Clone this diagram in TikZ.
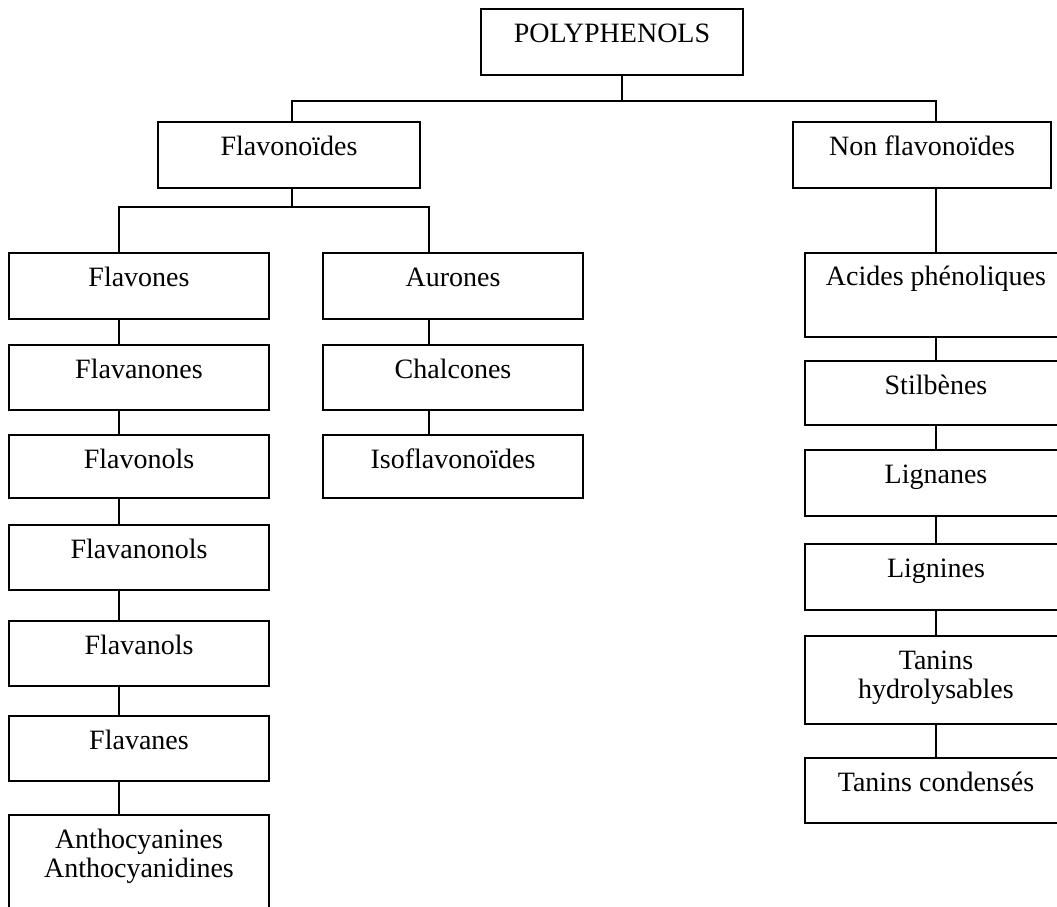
\documentclass[tikz,border=0pt]{standalone}
\usepackage{fontspec}
\setmainfont{Liberation Serif}
\begin{document}
\begin{tikzpicture}[x=1pt,y=-1pt,
  box/.style={draw=black, line width=1.5pt, rectangle, inner sep=0pt, minimum height=65pt},
  lbox/.style={box, minimum width=260pt},
  lbl/.style={inner sep=0pt, anchor=base, align=center, font=\fontsize{28}{29}\selectfont, text=black},
  conn/.style={draw=black, line width=1.5pt}]
\useasboundingbox (0,0) rectangle (1057,907);
\fill[white] (0,0) rectangle (1057,907);
\clip (0,0) rectangle (1057,907);

% top level
\node[box, minimum width=262pt, minimum height=66pt] (poly) at (612,42) {};
\node[box, minimum width=262pt, minimum height=66pt] (flav) at (289,155) {};
\node[box, minimum width=258pt, minimum height=66pt] (nonf) at (922,155) {};

% left column
\node[lbox, minimum height=66pt] (flavones) at (139,286) {};
\node[lbox] (flavanones) at (139,377.5) {};
\node[lbox, minimum height=63pt] (flavonols) at (139,466.5) {};
\node[lbox] (flavanonols) at (139,557.5) {};
\node[lbox] (flavanols) at (139,653.5) {};
\node[lbox] (flavanes) at (139,748.5) {};
\node[lbox, minimum height=105pt] (antho) at (139,867.5) {};

% middle column
\node[lbox, minimum height=66pt] (aurones) at (453,286) {};
\node[lbox] (chalcones) at (453,377.5) {};
\node[lbox, minimum height=63pt] (isofl) at (453,466.5) {};

% right column
\node[box, minimum width=262pt, minimum height=84pt] (acides) at (936,295) {};
\node[box, minimum width=262pt, minimum height=64pt] (stilb) at (936,393) {};
\node[box, minimum width=262pt, minimum height=66pt] (lignanes) at (936,483) {};
\node[box, minimum width=262pt, minimum height=66pt] (lignines) at (936,577) {};
\node[box, minimum width=262pt, minimum height=88pt] (tanh) at (936,680) {};
\node[box, minimum width=262pt, minimum height=65pt] (tanc) at (936,790.5) {};

% labels (anchor = baseline of the last line)
\node[lbl] (tpoly) at ([yshift=-34pt]poly.north) {POLYPHENOLS};
\node[lbl] (tflav) at ([yshift=-34pt]flav.north) {Flavonoïdes};
\node[lbl] (tnonf) at ([yshift=-34pt]nonf.north) {Non flavonoïdes};
\node[lbl] (tflavones) at ([yshift=-34pt]flavones.north) {Flavones};
\node[lbl] (tflavanones) at ([yshift=-34pt]flavanones.north) {Flavanones};
\node[lbl] (tflavonols) at ([yshift=-34pt]flavonols.north) {Flavonols};
\node[lbl] (tflavanonols) at ([yshift=-34pt]flavanonols.north) {Flavanonols};
\node[lbl] (tflavanols) at ([yshift=-34pt]flavanols.north) {Flavanols};
\node[lbl] (tflavanes) at ([yshift=-34pt]flavanes.north) {Flavanes};
\node[lbl] (tantho) at ([yshift=-63pt]antho.north) {Anthocyanines\\Anthocyanidines};
\node[lbl] (taurones) at ([yshift=-34pt]aurones.north) {Aurones};
\node[lbl] (tchalcones) at ([yshift=-34pt]chalcones.north) {Chalcones};
\node[lbl] (tisofl) at ([yshift=-34pt]isofl.north) {Isoflavonoïdes};
\node[lbl] (tacides) at ([yshift=-33pt]acides.north) {Acides phénoliques};
\node[lbl] (tstilb) at ([yshift=-34pt]stilb.north) {Stilbènes};
\node[lbl] (tlignanes) at ([yshift=-34pt]lignanes.north) {Lignanes};
\node[lbl] (tlignines) at ([yshift=-34pt]lignines.north) {Lignines};
\node[lbl] (ttanh) at ([yshift=-63pt]tanh.north) {Tanins\\hydrolysables};
\node[lbl] (ttanc) at ([yshift=-34pt]tanc.north) {Tanins condensés};

% junction coordinates
\coordinate (j0) at (622,101);
\coordinate (jl) at (292,101);
\coordinate (jr) at (936,101);
\coordinate (f0) at (292,207);
\coordinate (fl) at (119,207);
\coordinate (fr) at (429,207);

% connectors
\draw[conn] (poly.south -| j0) -- (j0);
\draw[conn] (jl |- flav.north) -- (jl) -- (jr) -- (jr |- nonf.north);
\draw[conn] (flav.south -| f0) -- (f0);
\draw[conn] (fl |- flavones.north) -- (fl) -- (fr) -- (fr |- aurones.north);

\draw[conn] (fl |- flavones.south) -- (fl |- flavanones.north);
\draw[conn] (fl |- flavanones.south) -- (fl |- flavonols.north);
\draw[conn] (fl |- flavonols.south) -- (fl |- flavanonols.north);
\draw[conn] (fl |- flavanonols.south) -- (fl |- flavanols.north);
\draw[conn] (fl |- flavanols.south) -- (fl |- flavanes.north);
\draw[conn] (fl |- flavanes.south) -- (fl |- antho.north);

\draw[conn] (fr |- aurones.south) -- (fr |- chalcones.north);
\draw[conn] (fr |- chalcones.south) -- (fr |- isofl.north);

\draw[conn] (jr |- nonf.south) -- (jr |- acides.north);
\draw[conn] (jr |- acides.south) -- (jr |- stilb.north);
\draw[conn] (jr |- stilb.south) -- (jr |- lignanes.north);
\draw[conn] (jr |- lignanes.south) -- (jr |- lignines.north);
\draw[conn] (jr |- lignines.south) -- (jr |- tanh.north);
\draw[conn] (jr |- tanh.south) -- (jr |- tanc.north);
\end{tikzpicture}
\end{document}
